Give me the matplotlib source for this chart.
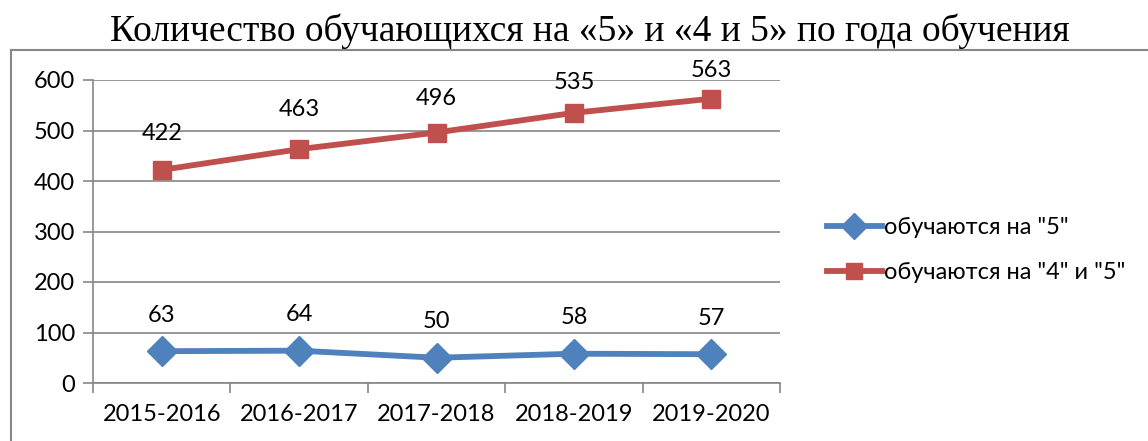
import matplotlib.pyplot as plt
from matplotlib.lines import Line2D

years = ["2015-2016", "2016-2017", "2017-2018", "2018-2019", "2019-2020"]
excellent = [63, 64, 50, 58, 57]
good_excellent = [422, 463, 496, 535, 563]
labels = ['обучаются на "5"', 'обучаются на "4" и "5"']

# label offsets above the points, px (red labels were nudged in the original)
blue_off = [36, 36, 36, 36, 36]
red_off = [36, 40, 34, 30, 28]

plt.rcParams['font.family'] = ['Lato', 'DejaVu Sans']
fs = 17

fig = plt.figure(figsize=(11.48, 4.41), dpi=100)
ax = fig.add_axes([93 / 1148, 1 - 383 / 441, (780 - 93) / 1148, (383 - 80) / 441])

x = list(range(len(years)))
ax.plot(x, excellent, color='#4F81BD', lw=4.2, marker='D', ms=15, label=labels[0], zorder=3)
ax.plot(x, good_excellent, color='#C0504D', lw=4.2, marker='s', ms=13.5, label=labels[1], zorder=3)

for xi, v, o in zip(x, excellent, blue_off):
    ax.annotate(str(v), (xi, v), xytext=(0, o * 0.72), textcoords='offset points',
                ha='center', va='center', fontsize=fs)
for xi, v, o in zip(x, good_excellent, red_off):
    ax.annotate(str(v), (xi, v), xytext=(0, o * 0.72), textcoords='offset points',
                ha='center', va='center', fontsize=fs)

ax.set_xlim(-0.5, len(years) - 0.5)
ax.set_ylim(0, 600)
ax.set_yticks(range(0, 601, 100))
ax.set_xticks([i - 0.5 for i in range(len(years) + 1)])
ax.set_xticklabels([])
ax.set_xticks(x, minor=True)
ax.set_xticklabels(years, minor=True)
ax.tick_params(axis='x', which='major', length=7, width=1.2, color='#868686', direction='out')
ax.tick_params(axis='x', which='minor', length=0, pad=15, labelsize=fs)
ax.tick_params(axis='y', length=7, width=1.2, color='#868686', labelsize=fs, pad=6)
ax.grid(axis='y', color='#868686', lw=1.2)
ax.set_axisbelow(True)
for s in ['top', 'right']:
    ax.spines[s].set_visible(False)
for s in ['left', 'bottom']:
    ax.spines[s].set_color('#868686')
    ax.spines[s].set_linewidth(1.2)

fig.legend(loc='center left', bbox_to_anchor=(806 / 1148, 1 - 250 / 441), frameon=False,
           fontsize=fs, handlelength=2.3, handletextpad=0.1, labelspacing=1.0, markerscale=0.85)

fig.text(0.514, 0.93, 'Количество обучающихся на «5» и «4 и 5» по года обучения',
         ha='center', va='center', fontsize=27, family=['Liberation Serif', 'DejaVu Serif'])

border = dict(color='#878787', lw=1.5, transform=fig.transFigure)
fig.add_artist(Line2D([11 / 1148, 11 / 1148], [0, 1 - 50 / 441], **border))
fig.add_artist(Line2D([11 / 1148, 1], [1 - 50 / 441, 1 - 50 / 441], **border))

fig.savefig('out.png', dpi=100)
